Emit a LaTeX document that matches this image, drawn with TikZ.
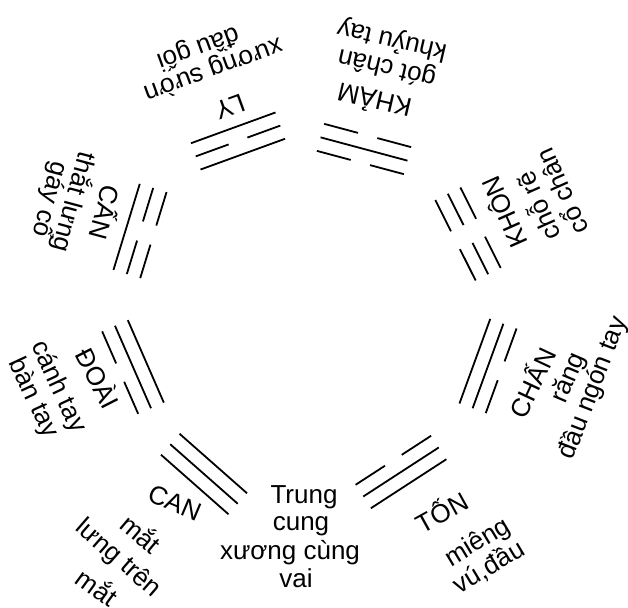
\documentclass[tikz,border=0pt]{standalone}
\usepackage{fontspec}
\setmainfont{Liberation Sans}
\tikzset{
  trline/.style={line width=1.8pt, line cap=butt},
  lbl/.style={inner sep=0pt, font=\fontsize{26}{28}\selectfont}
}
% one solid and one broken line, at distance #1 from the trigram centre
\newcommand\yangat[1]{\draw[trline] (-45,#1) -- (45,#1);}
\newcommand\yinat[1]{\draw[trline] (-45,#1) -- (-10,#1) (10,#1) -- (45,#1);}
% centre x, centre y, rotation, inner line, middle line, outer line
\newcommand\drawtrigram[6]{%
  \begin{scope}[shift={(#1,#2)},rotate=#3]
    #4{-14}
    #5{0}
    #6{14}
  \end{scope}}
\begin{document}
\begin{tikzpicture}[x=1pt,y=-1pt]
\useasboundingbox (0,0) rectangle (628,607);

% the eight trigrams
\drawtrigram{238}{141}{200}{\yangat}{\yinat}{\yangat}    % Ly
\drawtrigram{364}{149}{165}{\yinat}{\yangat}{\yinat}     % Kham
\drawtrigram{468}{234}{116.6}{\yinat}{\yinat}{\yinat}    % Khon
\drawtrigram{488}{366}{70}{\yangat}{\yangat}{\yinat}     % Chan
\drawtrigram{401}{472}{33}{\yinat}{\yangat}{\yangat}     % Ton
\drawtrigram{204}{474}{-41.4}{\yangat}{\yangat}{\yangat} % Can
\drawtrigram{133}{367}{-66.4}{\yangat}{\yangat}{\yinat}  % Doai
\drawtrigram{140}{231}{-107}{\yinat}{\yinat}{\yangat}    % Can (mountain)

% Ly
\node[lbl, rotate=200] (ly-name) at (230,107) {LY};
\node[lbl, rotate=200] (ly-1) at (213,69) {xương sườn};
\node[lbl, rotate=200] (ly-2) at (198,48) {đầu gối};

% Kham
\node[lbl, rotate=167] (kham-name) at (374,102) {KHẢM};
\node[lbl, rotate=167] (kham-1) at (387,67) {gót chân};
\node[lbl, rotate=167] (kham-2) at (392,40) {khuỷu tay};

% Khon
\node[lbl, rotate=114] (khon-name) at (503,213) {KHÔN};
\node[lbl, rotate=114] (khon-1) at (537,207) {chỗ rẽ};
\node[lbl, rotate=114] (khon-2) at (561,192) {cổ chân};

% Chan
\node[lbl, rotate=65] (chan-name) at (531,382) {CHẤN};
\node[lbl, rotate=67] (chan-1) at (569,378) {răng};
\node[lbl, rotate=69] (chan-2) at (593,388) {đầu ngón tay};

% Ton
\node[lbl, rotate=29] (ton-name) at (441,511) {TỐN};
\node[lbl, rotate=31] (ton-1) at (478,543) {miêng};
\node[lbl, rotate=31] (ton-2) at (489,567) {vú,đầu};

% centre
\node[lbl, anchor=base] (tc-1) at (304,503) {Trung};
\node[lbl, anchor=base] (tc-2) at (301,530) {cung};
\node[lbl, anchor=base] (tc-3) at (290,559) {xương cùng};
\node[lbl, anchor=base] (tc-4) at (296,587) {vai};

% Can (heaven)
\node[lbl, rotate=-23] (can-name) at (175,503) {CAN};
\node[lbl, rotate=-40] (can-1) at (142,533) {mắt};
\node[lbl, rotate=-41] (can-2) at (118,559) {lưng trên};
\node[lbl, rotate=-36] (can-3) at (98,586) {mắt};

% Doai
\node[lbl, rotate=-63] (doai-name) at (99,378) {ĐOÀI};
\node[lbl, rotate=-65] (doai-1) at (58,387) {cánh tay};
\node[lbl, rotate=-65] (doai-2) at (33,398) {bàn tay};

% Can (mountain)
\node[lbl, rotate=-105] (cann-name) at (107,213) {CẤN};
\node[lbl, rotate=-105] (cann-1) at (74,202) {thắt lưng};
\node[lbl, rotate=-105] (cann-2) at (50,200) {gáy cổ};
\end{tikzpicture}
\end{document}
